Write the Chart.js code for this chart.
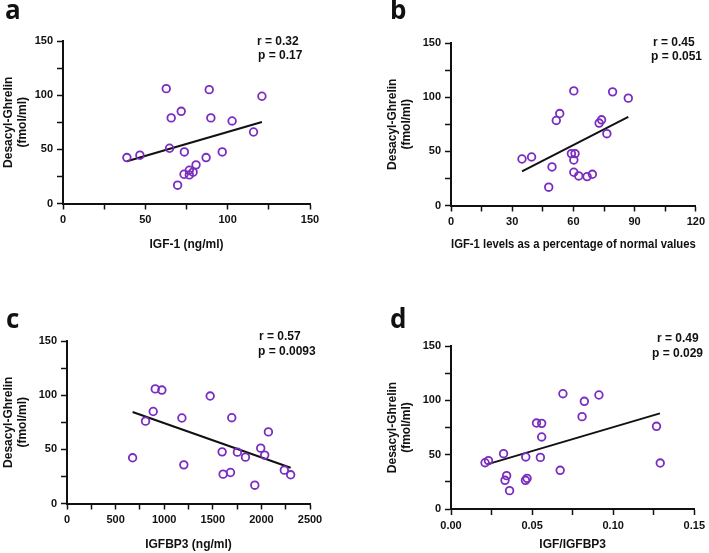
<!DOCTYPE html>
<html>
<head>
<meta charset="utf-8">
<script src="https://cdn.jsdelivr.net/npm/chart.js@4.4.1/dist/chart.umd.min.js"></script>
<style>
  body { margin: 0; background: #fff; }
  #wrap { position: relative; width: 709px; height: 553px; overflow: hidden; }
  #wrap canvas { position: absolute; }
  .tag { position: absolute; font: 700 26px "Open Sans", sans-serif; line-height: 1; color: #111; }
</style>
</head>
<body>
<div id="wrap">
  <canvas id="panelA" width="354" height="275" style="left:0;top:0"></canvas>
  <canvas id="panelB" width="354" height="275" style="left:355px;top:0"></canvas>
  <canvas id="panelC" width="354" height="273" style="left:0;top:280px"></canvas>
  <canvas id="panelD" width="354" height="273" style="left:355px;top:280px"></canvas>
  <div class="tag" style="left:5px;top:-4px">a</div>
  <div class="tag" style="left:390px;top:-4px">b</div>
  <div class="tag" style="left:6px;top:305px">c</div>
  <div class="tag" style="left:390px;top:305px">d</div>
</div>
<script>
// values (Desacyl-Ghrelin in fmol/ml)
const igf1Ng = [38.8, 46.7, 62.7, 65.7, 71.8, 64.7, 73.7, 69.6, 73.5, 76.7, 76.7, 79.0, 80.8, 86.9, 88.8, 89.8, 96.7, 102.7, 115.7, 120.8];
const ghrelinA = [42.4, 44.6, 106, 79, 85.1, 51, 47.6, 16.9, 27, 30.7, 26.4, 28.9, 35.7, 42.4, 105.1, 79, 47.6, 76.2, 66, 99];
const fitAX = [38.8, 120.8];
const fitAY = [39, 75.3];

const igf1Pct = [34.8, 39.5, 60.2, 51.6, 53.3, 49.5, 47.9, 59.0, 60.8, 60.2, 60.2, 62.6, 66.7, 69.3, 72.6, 73.8, 76.4, 79.2, 86.9];
const ghrelinB = [42.9, 44.8, 105.8, 78.5, 84.9, 35.6, 16.9, 47.9, 47.9, 42.0, 30.7, 27.3, 26.7, 28.8, 76.1, 79.1, 66.3, 104.9, 99.1];
const fitBX = [34.8, 86.9];
const fitBY = [31.6, 81.9];

const igfbp3Ng = [675, 808, 887, 908, 976, 1182, 1202, 1473, 1596, 1606, 1682, 1695, 1753, 1836, 1932, 1993, 2034, 2072, 2236, 2301];
const ghrelinC = [42.2, 76, 84.9, 105.8, 104.7, 78.9, 35.7, 99.2, 47.7, 27.1, 28.6, 79.2, 47.4, 42.8, 16.9, 51.1, 44.7, 66.1, 30.8, 26.5];
const fitCX = [675, 2301];
const fitCY = [84.4, 33];

const igfRatio = [0.0210, 0.0231, 0.0324, 0.0333, 0.0343, 0.0361, 0.0459, 0.0469, 0.0461, 0.0527, 0.0559, 0.0559, 0.0551, 0.0673, 0.0690, 0.0808, 0.0822, 0.0912, 0.1267, 0.1290];
const ghrelinD = [42.6, 44.5, 50.9, 26.4, 30.7, 16.9, 26.4, 28.2, 47.9, 79.1, 78.8, 66.3, 47.5, 35.6, 106.1, 85, 99.1, 104.9, 76.1, 42.3];
const fitDX = [0.0222, 0.1288];
const fitDY = [41.1, 88];

const yTicks = { min: 0, max: 150, step: 25 };
const yTitle = ['Desacyl-Ghrelin', '(fmol/ml)'];

const purple = '#7A2DBE';
const ink = '#111';

Chart.defaults.font.family = '"Liberation Sans", Arial, sans-serif';
Chart.defaults.font.size = 11;
Chart.defaults.font.weight = 'bold';
Chart.defaults.color = ink;

const panels = [
  { id: 'panelA', xs: igf1Ng, ys: ghrelinA, fx: fitAX, fy: fitAY,
    xMax: 150, xStep: 25, fmt: v => String(Math.round(v)), xTitle: 'IGF-1 (ng/ml)',
    w: 354, h: 275, area: [63, 41, 310, 203.5], yTitleX: 9, xTitleGap: 41,
    stats: [['r = 0.32', 257, 42], ['p = 0.17', 258, 56]] },
  { id: 'panelB', xs: igf1Pct, ys: ghrelinB, fx: fitBX, fy: fitBY,
    xMax: 120, xStep: 15, fmt: v => String(Math.round(v)), xTitle: 'IGF-1 levels as a percentage of normal values',
    w: 354, h: 275, area: [96, 43, 341, 205.5], yTitleX: 38, xTitleGap: 39.5,
    stats: [['r = 0.45', 298, 43], ['p = 0.051', 296, 57]] },
  { id: 'panelC', xs: igfbp3Ng, ys: ghrelinC, fx: fitCX, fy: fitCY,
    xMax: 2500, xStep: 250, fmt: v => String(Math.round(v)), xTitle: 'IGFBP3 (ng/ml)',
    w: 354, h: 273, area: [67, 61, 310, 223.5], yTitleX: 9, xTitleGap: 41,
    stats: [['r = 0.57', 259, 57], ['p = 0.0093', 258, 72]] },
  { id: 'panelD', xs: igfRatio, ys: ghrelinD, fx: fitDX, fy: fitDY,
    xMax: 0.15, xStep: 0.025, fmt: v => v.toFixed(2), xTitle: 'IGF/IGFBP3',
    w: 354, h: 273, area: [96, 66, 341, 229], yTitleX: 38, xTitleGap: 36,
    stats: [['r = 0.49', 302, 59], ['p = 0.029', 297, 74]] }
];

// r / p annotation in the top right corner of each panel
const statsPlugin = lines => ({
  id: 'stats',
  afterDraw(chart) {
    const ctx = chart.ctx;
    ctx.save();
    ctx.font = 'bold 12px "Liberation Sans", Arial, sans-serif';
    ctx.fillStyle = ink;
    ctx.textBaseline = 'middle';
    ctx.textAlign = 'left';
    lines.forEach(([t, x, y]) => ctx.fillText(t, x, y));
    ctx.restore();
  }
});

const axisLook = {
  border: { display: true, color: ink, width: 2 },
  grid: { display: true, drawOnChartArea: false, drawTicks: true, tickLength: 6, tickWidth: 1.5, tickColor: ink }
};

panels.forEach(p => {
  const xAxisH = p.xTitleGap + 8;
  const titleFont = { size: 12, weight: 'bold', lineHeight: 1.2 };
  new Chart(document.getElementById(p.id), {
    type: 'scatter',
    data: {
      datasets: [
        {
          data: p.xs.map((x, i) => ({ x, y: p.ys[i] })),
          pointStyle: 'circle',
          pointRadius: 3.8,
          borderWidth: 1.8,
          borderColor: purple,
          backgroundColor: 'rgba(0,0,0,0)'
        },
        {
          type: 'line',
          data: p.fx.map((x, i) => ({ x, y: p.fy[i] })),
          borderColor: ink,
          borderWidth: 2,
          pointRadius: 0,
          fill: false
        }
      ]
    },
    options: {
      responsive: false,
      animation: false,
      events: [],
      layout: {
        padding: { left: 0, top: p.area[1], right: p.w - p.area[2], bottom: p.h - p.area[3] - xAxisH }
      },
      plugins: { legend: { display: false }, tooltip: { enabled: false } },
      scales: {
        x: {
          type: 'linear',
          min: 0, max: p.xMax,
          ...axisLook,
          ticks: {
            stepSize: p.xStep, autoSkip: false, maxRotation: 0, padding: 4,
            callback: (v, i) => (i % 2 === 0 ? p.fmt(v) : '')
          },
          title: {
            display: true, text: p.xTitle, color: ink,
            font: titleFont,
            padding: { top: 0, bottom: xAxisH - p.xTitleGap - 7.2 }
          },
          afterFit: s => { s.height = xAxisH; }
        },
        y: {
          type: 'linear',
          min: yTicks.min, max: yTicks.max,
          ...axisLook,
          ticks: {
            stepSize: yTicks.step, autoSkip: false, padding: 4,
            callback: (v, i) => (i % 2 === 0 ? String(v) : '')
          },
          title: {
            display: true, text: yTitle, color: ink,
            font: { size: 12, weight: 'bold', lineHeight: 1.15 },
            padding: { top: p.yTitleX - 6.9, bottom: 0 }
          },
          afterFit: s => { s.width = p.area[0]; }
        }
      }
    },
    plugins: [statsPlugin(p.stats)]
  });
});
</script>
</body>
</html>
